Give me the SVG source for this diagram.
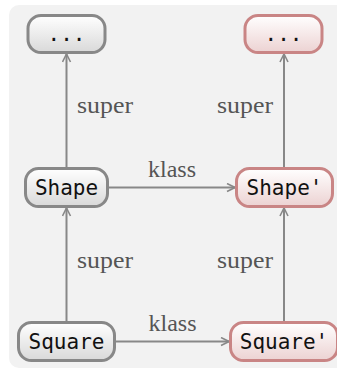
<svg xmlns="http://www.w3.org/2000/svg" width="337" height="369" viewBox="0 0 337 369">
  <defs>
    <linearGradient id="gradGray" x1="0" y1="0" x2="0" y2="1">
      <stop offset="0" stop-color="#ffffff"/>
      <stop offset="1" stop-color="#d9d9d9"/>
    </linearGradient>
    <linearGradient id="gradRed" x1="0" y1="0" x2="0" y2="1">
      <stop offset="0" stop-color="#ffffff"/>
      <stop offset="1" stop-color="#ecd2d2"/>
    </linearGradient>
    <marker id="arrow" viewBox="0 0 10 10" refX="9" refY="5" markerWidth="10" markerHeight="10" markerUnits="userSpaceOnUse" orient="auto">
      <path d="M1,1 L9,5 L1,9" fill="none" stroke="#888888" stroke-width="1.6" stroke-linejoin="miter"/>
    </marker>
    <style>
      .bg { fill: #f2f2f2; }
      .node-gray { fill: url(#gradGray); stroke: #888888; stroke-width: 3; }
      .node-red { fill: url(#gradRed); stroke: #c98585; stroke-width: 3; }
      .node-text { font-family: "DejaVu Sans Mono", "Liberation Mono", monospace; font-size: 21px; fill: #111111; text-anchor: middle; }
      .edge { stroke: #888888; stroke-width: 2; fill: none; marker-end: url(#arrow); }
      .edge-label { font-family: "Liberation Serif", "DejaVu Serif", serif; font-size: 24px; fill: #555555; }
    </style>
  </defs>

  <!-- panel -->
  <rect class="bg" x="9" y="5" width="340" height="363" rx="10"/>

  <!-- connectors -->
  <g id="connectors">
    <line class="edge" x1="66.5" y1="321" x2="66.5" y2="208"/>
    <line class="edge" x1="66.5" y1="167" x2="66.5" y2="54"/>
    <line class="edge" x1="284" y1="321" x2="284" y2="208"/>
    <line class="edge" x1="284" y1="167" x2="284" y2="54"/>
    <line class="edge" x1="109" y1="187.5" x2="235" y2="187.5"/>
    <line class="edge" x1="116" y1="341.5" x2="229" y2="341.5"/>
    <text class="edge-label" x="77" y="113" textLength="56" lengthAdjust="spacingAndGlyphs">super</text>
    <text class="edge-label" x="217" y="113" textLength="56" lengthAdjust="spacingAndGlyphs">super</text>
    <text class="edge-label" x="77" y="268" textLength="56" lengthAdjust="spacingAndGlyphs">super</text>
    <text class="edge-label" x="217" y="268" textLength="56" lengthAdjust="spacingAndGlyphs">super</text>
    <text class="edge-label" x="172" y="177" text-anchor="middle">klass</text>
    <text class="edge-label" x="172.5" y="331" text-anchor="middle">klass</text>
  </g>

  <!-- nodes -->
  <g id="node-top-left">
    <rect class="node-gray" x="28" y="15.5" width="77" height="37" rx="13"/>
    <text class="node-text" x="66.5" y="41">...</text>
  </g>
  <g id="node-top-right">
    <rect class="node-red" x="245" y="15.5" width="77" height="37" rx="13"/>
    <text class="node-text" x="283.5" y="41">...</text>
  </g>
  <g id="node-shape">
    <rect class="node-gray" x="25.5" y="168.5" width="82" height="38" rx="13"/>
    <text class="node-text" x="66.5" y="195">Shape</text>
  </g>
  <g id="node-shape-prime">
    <rect class="node-red" x="236.5" y="168.5" width="96" height="38" rx="13"/>
    <text class="node-text" x="284.5" y="195">Shape'</text>
  </g>
  <g id="node-square">
    <rect class="node-gray" x="18.5" y="322.5" width="96" height="38" rx="13"/>
    <text class="node-text" x="66.5" y="349">Square</text>
  </g>
  <g id="node-square-prime">
    <rect class="node-red" x="230.5" y="322.5" width="107" height="38" rx="13"/>
    <text class="node-text" x="284" y="349">Square'</text>
  </g>
</svg>
